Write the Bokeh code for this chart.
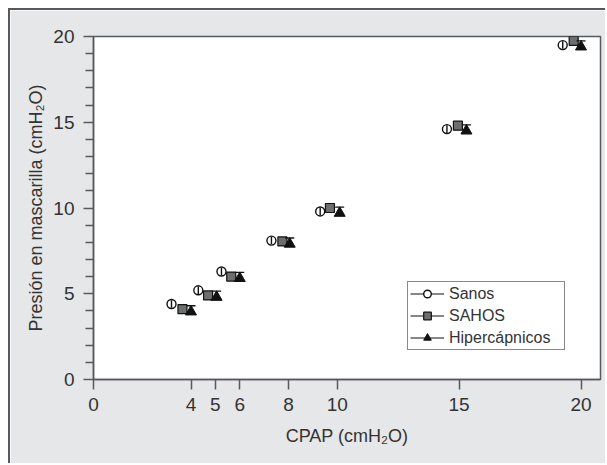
from bokeh.plotting import figure
from bokeh.models import Range1d, FixedTicker, Legend, LegendItem, ColumnDataSource, Whisker
from bokeh.embed import file_html
from bokeh.resources import INLINE

# ---- data ----
cpap_ticks = [0, 4, 5, 6, 8, 10, 15, 20]
y_ticks = [0, 5, 10, 15, 20]
y_minor = [1, 2, 3, 4, 6, 7, 8, 9, 11, 12, 13, 14, 16, 17, 18, 19]

sanos_x = [3.2, 4.3, 5.25, 7.3, 9.3, 14.5, 19.25]
sanos_y = [4.4, 5.2, 6.3, 8.1, 9.8, 14.6, 19.5]
sahos_x = [3.65, 4.7, 5.65, 7.75, 9.7, 14.95, 19.7]
sahos_y = [4.1, 4.9, 6.0, 8.05, 10.0, 14.8, 19.75]
hiper_x = [4.0, 5.05, 6.0, 8.05, 10.1, 15.3, 20.0]
hiper_y = [3.95, 4.8, 5.9, 7.9, 9.7, 14.5, 19.4]
err_sanos = [0.22, 0.22, 0.22, 0.22, 0.22, 0.22, 0.22]
err_hiper = [0.35, 0.35, 0.35, 0.35, 0.35, 0.35, 0.35]

labels = ["Sanos", "SAHOS", "Hipercápnicos"]

FONT = "Liberation Sans"
TXT = "#333333"
GRAY_BG = "#e6e7e8"
AX = "#58595b"

p = figure(width=597, height=455, output_backend="svg", toolbar_location=None,
           x_range=Range1d(0, 20.8), y_range=Range1d(0, 20),
           min_border_left=83, min_border_right=7, min_border_top=26, min_border_bottom=86)
p.styles = {"margin-left": "8px", "margin-top": "8px",
            "border-left": "2px solid #58595b", "border-top": "2px solid #58595b"}
p.border_fill_color = GRAY_BG
p.background_fill_color = "white"
p.outline_line_color = AX
p.outline_line_width = 1.5
p.grid.visible = False

p.xaxis.ticker = FixedTicker(ticks=cpap_ticks)
p.yaxis.ticker = FixedTicker(ticks=y_ticks, minor_ticks=y_minor)
for ax in (p.xaxis[0], p.yaxis[0]):
    ax.axis_line_color = AX
    ax.axis_line_width = 1.5
    ax.major_tick_line_color = AX
    ax.major_tick_line_width = 1.5
    ax.minor_tick_line_color = AX
    ax.minor_tick_line_width = 1.5
    ax.major_tick_in = 0
    ax.major_tick_out = 10
    ax.major_label_text_font = FONT
    ax.major_label_text_font_size = "19px"
    ax.major_label_text_color = TXT
    ax.axis_label_text_font = FONT
    ax.axis_label_text_font_size = "18px"
    ax.axis_label_text_font_style = "normal"
    ax.axis_label_text_color = TXT
p.xaxis.minor_tick_line_color = None
p.yaxis.minor_tick_in = 0
p.yaxis.minor_tick_out = 8
p.xaxis.major_label_standoff = 8
p.yaxis.major_label_standoff = 9
p.xaxis.axis_label = "CPAP (cmH₂O)"
p.yaxis.axis_label = "Presión en mascarilla (cmH₂O)"
p.xaxis.axis_label_standoff = 12
p.yaxis.axis_label_standoff = 4

src_s = ColumnDataSource(dict(x=sanos_x, y=sanos_y,
                              lo=[a - b for a, b in zip(sanos_y, err_sanos)],
                              hi=[a + b for a, b in zip(sanos_y, err_sanos)]))
src_q = ColumnDataSource(dict(x=sahos_x, y=sahos_y))
src_t = ColumnDataSource(dict(x=hiper_x, y=hiper_y,
                              hi=[a + b for a, b in zip(hiper_y, err_hiper)]))

# triangle error caps (behind marker)
wt = Whisker(base="x", lower="y", upper="hi", source=src_t, dimension="height",
             line_color="#111111", line_width=1.3, level="glyph")
wt.upper_head.size = 9
wt.upper_head.line_color = "#111111"
wt.upper_head.line_width = 1.3
wt.lower_head = None
p.add_layout(wt)

r_s = p.scatter("x", "y", source=src_s, marker="circle", size=9, fill_color="white",
                line_color="#111111", line_width=1.4)
p.segment(x0="x", y0="lo", x1="x", y1="hi", source=src_s, line_color="#111111", line_width=1.4)
r_q = p.scatter("x", "y", source=src_q, marker="square", size=9, fill_color="#6d6e70",
                line_color="#111111", line_width=1.2)
r_t = p.scatter("x", "y", source=src_t, marker="triangle", size=11, fill_color="#111111",
                line_color="#111111", line_width=1)

# legend sample lines: single-point lines (draw nothing in the plot)
items = []
for lab, r, xs, ys in zip(labels, [r_s, r_q, r_t], [sanos_x, sahos_x, hiper_x],
                          [sanos_y, sahos_y, hiper_y]):
    lr = p.line(x=xs[:1], y=ys[:1], line_color="#111111", line_width=1.2)
    items.append(LegendItem(label=lab, renderers=[lr, r]))

leg = Legend(items=items, location=(314, 29))
leg.border_line_color = "#111111"
leg.border_line_width = 1
leg.background_fill_color = "white"
leg.background_fill_alpha = 1
leg.label_text_font = FONT
leg.label_text_font_size = "16px"
leg.label_text_color = TXT
leg.glyph_width = 34
leg.glyph_height = 19
leg.label_height = 19
leg.label_width = 113
leg.spacing = 3
leg.padding = 2
leg.margin = 0
leg.label_standoff = 5
p.add_layout(leg, "center")

open("out.html", "w").write(file_html(p, INLINE))
